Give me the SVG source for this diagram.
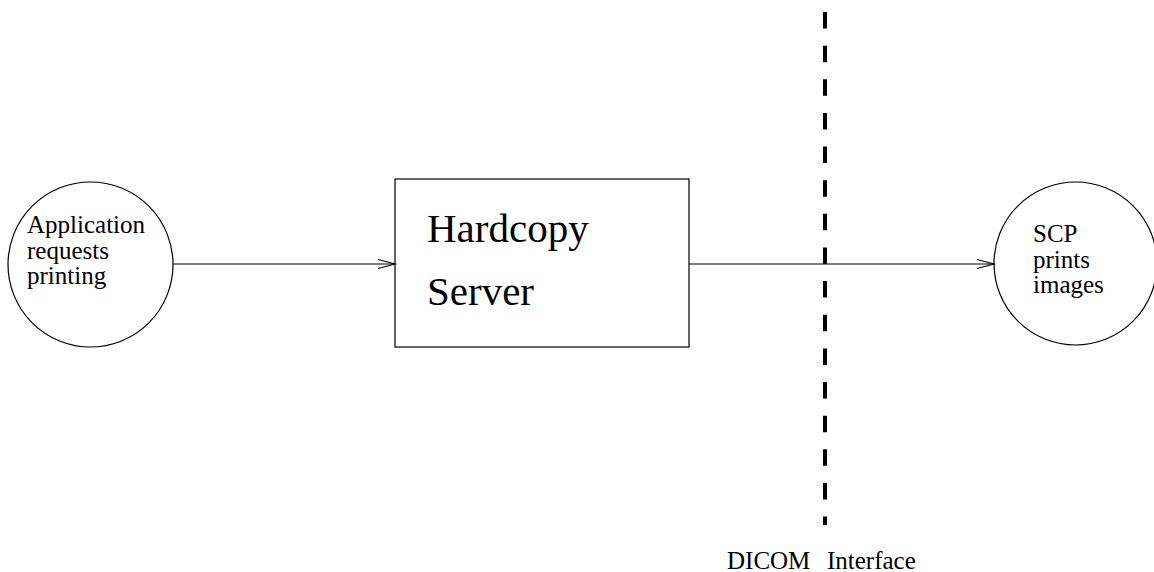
<svg xmlns="http://www.w3.org/2000/svg" width="1154" height="572" viewBox="0 0 1154 572">
<style>
.s{fill:none;stroke:#000;stroke-width:1.2}
.t{font-family:"Liberation Serif","Times New Roman",serif;font-size:25px;fill:#000}
.b{font-size:41px}
</style>
<defs>
<marker id="a" markerUnits="userSpaceOnUse" markerWidth="20" markerHeight="12" refX="17" refY="5" orient="auto" viewBox="0 0 20 10">
<path d="M0,0.5 L17,5 L0,9.5" fill="none" stroke="#000" stroke-width="1.2"/>
</marker>
</defs>
<rect width="1154" height="572" fill="#fff"/>
<g id="connectors">
<line class="s" x1="173" y1="264" x2="395" y2="264" marker-end="url(#a)"/>
<line class="s" x1="689" y1="264" x2="994" y2="264" marker-end="url(#a)"/>
</g>
<g id="dicom-interface">
<line x1="825" y1="12" x2="825" y2="525" stroke="#000" stroke-width="4" stroke-dasharray="16.5 17.14"/>
<text class="t" x="727" y="569">DICOM</text>
<text class="t" x="827" y="569">Interface</text>
</g>
<g id="application">
<circle class="s" cx="90.5" cy="264.5" r="82.5"/>
<text class="t" x="27" y="233">Application</text>
<text class="t" x="27" y="259">requests</text>
<text class="t" x="27" y="284">printing</text>
</g>
<g id="hardcopy-server">
<rect class="s" x="395" y="179" width="294" height="168"/>
<text class="t b" x="427" y="242">Hardcopy</text>
<text class="t b" x="427" y="305">Server</text>
</g>
<g id="scp">
<circle class="s" cx="1075.5" cy="263.5" r="81.5"/>
<text class="t" x="1033" y="242">SCP</text>
<text class="t" x="1033" y="268">prints</text>
<text class="t" x="1033" y="293">images</text>
</g>
</svg>
